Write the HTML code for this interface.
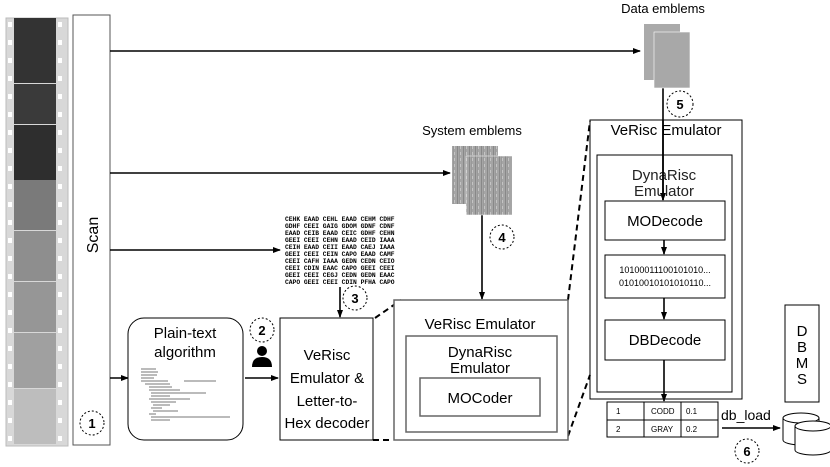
<!DOCTYPE html>
<html><head><meta charset="utf-8"><style>
html,body{margin:0;padding:0;background:#fff;}
svg{display:block;font-family:"Liberation Sans",sans-serif;}
</style></head><body>
<svg width="830" height="467" viewBox="0 0 830 467" xmlns="http://www.w3.org/2000/svg">
<defs>
<marker id="a" markerWidth="8" markerHeight="8" refX="7" refY="4" orient="auto" markerUnits="userSpaceOnUse"><path d="M0,1 L8,4 L0,7z" fill="#000"/></marker>
<pattern id="noise" width="6" height="6" patternUnits="userSpaceOnUse"><rect width="6" height="6" fill="#a5a5a5"/><rect x="1" width="1" height="6" fill="#888"/><rect x="4" y="2" width="1" height="3" fill="#c4c4c4"/><rect x="3" width="1" height="6" fill="#999"/></pattern>
</defs>
<!-- film strip -->
<rect x="6" y="18" width="62" height="428" fill="#d8d8d8" stroke="#bbb"/>
<rect x="14" y="18" width="42" height="65" fill="#333"/>
<rect x="14" y="84" width="42" height="40" fill="#3a3a3a"/>
<rect x="14" y="125" width="42" height="55" fill="#2e2e2e"/>
<rect x="14" y="180" width="42" height="50" fill="#7a7a7a"/>
<rect x="14" y="231" width="42" height="50" fill="#8e8e8e"/>
<rect x="14" y="282" width="42" height="50" fill="#969696"/>
<rect x="14" y="333" width="42" height="55" fill="#a0a0a0"/>
<rect x="14" y="389" width="42" height="55" fill="#bdbdbd"/>
<g fill="#fff">
<rect x="8" y="22" width="4" height="5"/><rect x="8" y="40" width="4" height="5"/><rect x="8" y="58" width="4" height="5"/><rect x="8" y="76" width="4" height="5"/><rect x="8" y="94" width="4" height="5"/><rect x="8" y="112" width="4" height="5"/><rect x="8" y="130" width="4" height="5"/><rect x="8" y="148" width="4" height="5"/><rect x="8" y="166" width="4" height="5"/><rect x="8" y="184" width="4" height="5"/><rect x="8" y="202" width="4" height="5"/><rect x="8" y="220" width="4" height="5"/><rect x="8" y="238" width="4" height="5"/><rect x="8" y="256" width="4" height="5"/><rect x="8" y="274" width="4" height="5"/><rect x="8" y="292" width="4" height="5"/><rect x="8" y="310" width="4" height="5"/><rect x="8" y="328" width="4" height="5"/><rect x="8" y="346" width="4" height="5"/><rect x="8" y="364" width="4" height="5"/><rect x="8" y="382" width="4" height="5"/><rect x="8" y="400" width="4" height="5"/><rect x="8" y="418" width="4" height="5"/><rect x="8" y="436" width="4" height="5"/>
<rect x="58" y="22" width="4" height="5"/><rect x="58" y="40" width="4" height="5"/><rect x="58" y="58" width="4" height="5"/><rect x="58" y="76" width="4" height="5"/><rect x="58" y="94" width="4" height="5"/><rect x="58" y="112" width="4" height="5"/><rect x="58" y="130" width="4" height="5"/><rect x="58" y="148" width="4" height="5"/><rect x="58" y="166" width="4" height="5"/><rect x="58" y="184" width="4" height="5"/><rect x="58" y="202" width="4" height="5"/><rect x="58" y="220" width="4" height="5"/><rect x="58" y="238" width="4" height="5"/><rect x="58" y="256" width="4" height="5"/><rect x="58" y="274" width="4" height="5"/><rect x="58" y="292" width="4" height="5"/><rect x="58" y="310" width="4" height="5"/><rect x="58" y="328" width="4" height="5"/><rect x="58" y="346" width="4" height="5"/><rect x="58" y="364" width="4" height="5"/><rect x="58" y="382" width="4" height="5"/><rect x="58" y="400" width="4" height="5"/><rect x="58" y="418" width="4" height="5"/><rect x="58" y="436" width="4" height="5"/>
</g>
<!-- scan -->
<rect x="73" y="15" width="37" height="430" fill="#fff" stroke="#555"/>
<text x="98" y="235" font-size="16" text-anchor="middle" transform="rotate(-90 98 235)">Scan</text>
<circle cx="92" cy="423" r="12" fill="none" stroke="#000" stroke-dasharray="2,2"/>
<text x="92" y="428" font-size="13" font-weight="bold" text-anchor="middle">1</text>
<g stroke="#000" stroke-width="1.6" fill="none">
<line x1="110" y1="51" x2="640" y2="51" marker-end="url(#a)"/>
<line x1="110" y1="173" x2="450" y2="173" marker-end="url(#a)"/>
<line x1="110" y1="250" x2="280" y2="250" marker-end="url(#a)"/>
<line x1="110" y1="378" x2="128" y2="378" marker-end="url(#a)"/>
<line x1="245" y1="378" x2="278" y2="378" marker-end="url(#a)"/>
<line x1="340" y1="287" x2="340" y2="317" marker-end="url(#a)"/>
<line x1="482" y1="215" x2="482" y2="299" marker-end="url(#a)"/>
<line x1="663" y1="88" x2="663" y2="200" marker-end="url(#a)"/>
<line x1="664" y1="240" x2="664" y2="254" marker-end="url(#a)"/>
<line x1="664" y1="298" x2="664" y2="319" marker-end="url(#a)"/>
<line x1="664" y1="360" x2="664" y2="401" marker-end="url(#a)"/>
<line x1="722" y1="428" x2="780" y2="428" marker-end="url(#a)"/>
</g>
<!-- plain text -->
<rect x="128" y="318" width="115" height="122" rx="16" fill="#fff" stroke="#000"/>
<text x="185" y="338" font-size="15" text-anchor="middle">Plain-text</text>
<text x="185" y="357" font-size="15" text-anchor="middle">algorithm</text>
<g stroke="#777" stroke-width="1">
<line x1="141" y1="369" x2="156" y2="369"/><line x1="141" y1="372" x2="158" y2="372"/><line x1="141" y1="375" x2="157" y2="375"/><line x1="141" y1="378" x2="154" y2="378"/><line x1="141" y1="381" x2="168" y2="381"/><line x1="184" y1="381" x2="216" y2="381"/><line x1="145" y1="384" x2="170" y2="384"/><line x1="149" y1="387" x2="172" y2="387"/><line x1="149" y1="390" x2="180" y2="390"/><line x1="151" y1="393" x2="206" y2="393"/><line x1="151" y1="396" x2="170" y2="396"/><line x1="149" y1="399" x2="190" y2="399"/><line x1="151" y1="402" x2="176" y2="402"/><line x1="153" y1="405" x2="170" y2="405"/><line x1="151" y1="408" x2="162" y2="408"/><line x1="153" y1="411" x2="178" y2="411"/><line x1="149" y1="414" x2="156" y2="414"/><line x1="151" y1="417" x2="230" y2="417"/><line x1="151" y1="420" x2="170" y2="420"/>
</g>
<circle cx="262" cy="330" r="12" fill="none" stroke="#000" stroke-dasharray="2,2"/>
<text x="262" y="335" font-size="13" font-weight="bold" text-anchor="middle">2</text>
<circle cx="262" cy="351" r="5" fill="#000"/>
<path d="M252,367 Q252,357 262,357 Q272,357 272,367z" fill="#000"/>
<!-- hex text -->
<g font-family="Liberation Mono,monospace" font-size="6.3" font-weight="bold">
<text x="285" y="221">CEHK EAAD CEHL EAAD CEHM CDHF</text>
<text x="285" y="228">GDHF CEEI GAIG GDOM GDNF CDNF</text>
<text x="285" y="235">EAAD CEIB EAAD CEIC GDHF CEHN</text>
<text x="285" y="242">GEEI CEEI CEHN EAAD CEID IAAA</text>
<text x="285" y="249">CEIH EAAD CEII EAAD CAEJ IAAA</text>
<text x="285" y="256">GEEI CEEI CEIN CAPO EAAD CAMF</text>
<text x="285" y="263">CEEI CAFH IAAA GEDN CEDN CEIO</text>
<text x="285" y="270">CEEI CDIN EAAC CAPO GEEI CEEI</text>
<text x="285" y="277">GEEI CEEI CEGJ CEDN GEDN EAAC</text>
<text x="285" y="284">CAPO GEEI CEEI CDIN PFHA CAPO</text>
</g>
<circle cx="355" cy="298" r="12" fill="none" stroke="#000" stroke-dasharray="2,2"/>
<text x="355" y="303" font-size="13" font-weight="bold" text-anchor="middle">3</text>
<!-- verisc letter box -->
<rect x="280" y="318" width="93" height="122" fill="#fff" stroke="#000"/>
<g font-size="15" text-anchor="middle"><text x="327" y="360">VeRisc</text><text x="327" y="383">Emulator &amp;</text><text x="327" y="406">Letter-to-</text><text x="327" y="428">Hex decoder</text></g>
<g stroke="#000" stroke-width="2" stroke-dasharray="6,4" fill="none">
<line x1="375" y1="318" x2="401" y2="300"/>
<line x1="373" y1="440" x2="393" y2="440"/>
<line x1="568" y1="300" x2="590" y2="121"/>
<line x1="568" y1="436" x2="590" y2="375"/>
</g>
<!-- system emblems -->
<text x="472" y="135" font-size="13" text-anchor="middle">System emblems</text>
<rect x="452" y="146" width="46" height="58" fill="url(#noise)"/>
<rect x="466" y="156" width="46" height="59" fill="url(#noise)" stroke="#fff" stroke-width="0.5"/>
<circle cx="502" cy="237" r="12" fill="none" stroke="#000" stroke-dasharray="2,2"/>
<text x="502" y="242" font-size="13" font-weight="bold" text-anchor="middle">4</text>
<!-- middle verisc -->
<rect x="394" y="300" width="174" height="140" fill="#fff" stroke="#666" stroke-width="1.5"/>
<text x="480" y="329" font-size="15" text-anchor="middle">VeRisc Emulator</text>
<rect x="406" y="336" width="151" height="96" fill="#fff" stroke="#666" stroke-width="1.5"/>
<text x="480" y="357" font-size="15" text-anchor="middle">DynaRisc</text>
<text x="480" y="373" font-size="15" text-anchor="middle">Emulator</text>
<rect x="420" y="378" width="120" height="38" fill="#fff" stroke="#666" stroke-width="1.5"/>
<text x="480" y="403" font-size="15" text-anchor="middle">MOCoder</text>
<!-- data emblems -->
<text x="663" y="13" font-size="13" text-anchor="middle">Data emblems</text>
<rect x="644" y="24" width="36" height="56" fill="#aaa"/>
<rect x="654" y="32" width="36" height="56" fill="#a8a8a8" stroke="#fff" stroke-width="0.6"/>
<circle cx="680" cy="104" r="13" fill="none" stroke="#000" stroke-dasharray="2,2"/>
<text x="680" y="109" font-size="13" font-weight="bold" text-anchor="middle">5</text>
<!-- right verisc -->
<rect x="590" y="120" width="152" height="279" fill="none" stroke="#000"/>
<text x="666" y="135" font-size="15" text-anchor="middle">VeRisc Emulator</text>
<rect x="597" y="155" width="135" height="237" fill="none" stroke="#000"/>
<text x="664" y="180" font-size="15" text-anchor="middle" fill="#222">DynaRisc</text>
<text x="664" y="196" font-size="15" text-anchor="middle" fill="#222">Emulator</text>
<line x1="663" y1="120" x2="663" y2="200" stroke="#000" stroke-width="1.6"/>
<rect x="605" y="201" width="120" height="39" fill="#fff" stroke="#000"/>
<text x="665" y="226" font-size="15" text-anchor="middle">MODecode</text>
<rect x="605" y="255" width="120" height="43" fill="#fff" stroke="#000"/>
<text x="665" y="273" font-size="9" text-anchor="middle">10100011100101010...</text>
<text x="665" y="286" font-size="9" text-anchor="middle">01010010101010110...</text>
<rect x="605" y="320" width="120" height="40" fill="#fff" stroke="#000"/>
<text x="665" y="345" font-size="15" text-anchor="middle">DBDecode</text>
<!-- table -->
<rect x="607" y="402" width="111" height="35" fill="#fff" stroke="#000"/>
<line x1="607" y1="420" x2="718" y2="420" stroke="#000"/>
<line x1="644" y1="402" x2="644" y2="437" stroke="#000"/>
<line x1="681" y1="402" x2="681" y2="437" stroke="#000"/>
<g font-size="8"><text x="616" y="414">1</text><text x="616" y="432">2</text><text x="651" y="414">CODD</text><text x="651" y="432">GRAY</text><text x="686" y="414">0.1</text><text x="686" y="432">0.2</text></g>
<text x="721" y="420" font-size="14">db_load</text>
<circle cx="747" cy="451" r="12" fill="none" stroke="#000" stroke-dasharray="2,2"/>
<text x="747" y="456" font-size="13" font-weight="bold" text-anchor="middle">6</text>
<!-- DBMS -->
<rect x="785" y="305" width="34" height="97" fill="#fff" stroke="#000"/>
<g font-size="15" text-anchor="middle"><text x="802" y="336">D</text><text x="802" y="352">B</text><text x="802" y="368">M</text><text x="802" y="384">S</text></g>
<!-- cylinders -->
<g fill="#fff" stroke="#000">
<path d="M783,418 L783,440 A18,5 0 0 0 819,440 L819,418"/>
<ellipse cx="801" cy="418" rx="18" ry="5"/>
<path d="M795,426 L795,450 A18,5 0 0 0 831,450 L831,426"/>
<ellipse cx="813" cy="426" rx="18" ry="5"/>
</g>
</svg>
</body></html>
